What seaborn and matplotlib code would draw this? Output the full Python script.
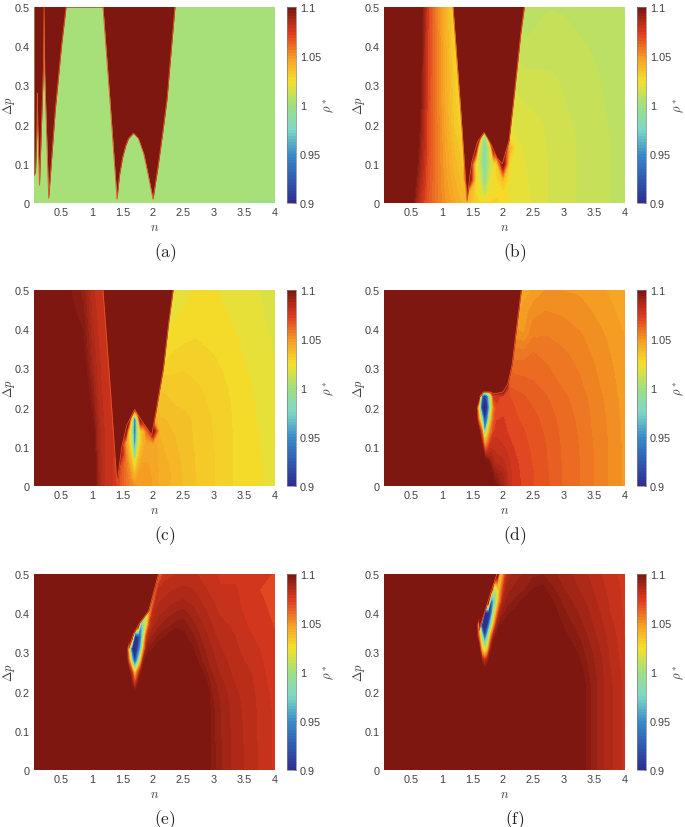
import numpy as np
import matplotlib
matplotlib.use("Agg")
import matplotlib.pyplot as plt
from matplotlib.colors import ListedColormap, Normalize
import seaborn as sns

# field values are (rho* - 1) * 1000
rho_ticks = [0.9, 0.95, 1, 1.05, 1.1]
n_ticks = [0.5, 1, 1.5, 2, 2.5, 3, 3.5, 4]
dp_ticks = [0, 0.1, 0.2, 0.3, 0.4, 0.5]
captions = ['(a)', '(b)', '(c)', '(d)', '(e)', '(f)']
cbar_colors = ['#2e2f92', '#2f5fb4', '#3a8fca', '#7fd8c5', '#a0e080',
               '#f4e02a', '#f59a23', '#de3b1f', '#7d1710']

x_a = [0.05, 2.3, 2.6, 3.0, 3.4, 3.6, 4.0]
y_a = [0, 0.004, 0.02, 0.5]
rho_a = [
    [1.5, -1, -1, -1, 1.5, -1, -1],
    [1.5, 1.5, 1.5, 1.5, 1.5, -1, -1],
    [1.5, 1.5, 1.5, 1.5, 1.5, 1.5, 1.5],
    [1.5, 1.5, 1.5, 1.5, 1.5, 1.5, 1.5],
]
front_n_a = [0.05, 0.075, 0.10, 0.105, 0.11, 0.14, 0.205, 0.215, 0.225, 0.29, 0.4, 0.5, 0.575,
             1.18, 1.3, 1.41, 1.45, 1.5, 1.55, 1.6, 1.68, 1.76, 1.85, 1.93, 2.0, 2.08, 2.16, 2.23, 2.36]
front_dp_a = [0.07, 0.08, 0.2, 0.28, 0.2, 0.045, 0.35, 0.5, 0.33, 0.012, 0.24, 0.4, 0.5,
              0.5, 0.25, 0.01, 0.07, 0.115, 0.145, 0.165, 0.178, 0.165, 0.125, 0.065, 0.01, 0.09, 0.18, 0.265, 0.5]

x_b = [0.05, 0.5, 0.6, 0.75, 0.9, 1.05, 1.2, 1.35, 1.45, 1.55, 1.6, 1.65, 1.7, 1.75, 1.8, 1.85, 1.9, 2.0, 2.1, 2.2, 2.4, 2.6, 2.8, 3.0, 3.25, 3.5, 3.75, 4.0]
y_b = [0, 0.03, 0.06, 0.1, 0.14, 0.17, 0.2, 0.3, 0.4, 0.5]
rho_b = [
    [110, 102, 83, 68, 58, 50, 44, 38, 36, 28, 27, 27, 27, 27, 27, 27, 27, 25, 23, 22, 20.5, 18, 16, 15, 13, 11.5, 10, 8],
    [110, 105, 86, 69, 58, 49, 42, 36, 40, 26, 24, 18, 3, 18, 24, 26, 26, 25, 23, 22, 20.3, 18, 16, 15, 13, 11.5, 10, 8],
    [110, 108, 90, 70, 58, 48, 40, 34, 100, 25, 20, 8, -18, 8, 20, 24, 26, 35, 23, 21.5, 20, 18, 16, 14.8, 13, 11.5, 10, 8],
    [110, 112, 94, 71, 58, 47, 38, 32, 100, 22, 15, 0, -28, 0, 15, 20, 26, 100, 24, 21, 19.7, 17.8, 16, 14.7, 13, 11.5, 10, 8],
    [110, 114, 97, 72, 58, 46, 36, 30, 100, 100, 18, 2, -28, 2, 20, 100, 100, 100, 40, 21, 19.3, 17.5, 16, 14.5, 13, 11.5, 10, 8],
    [110, 116, 99, 72, 58, 45, 34, 28, 100, 100, 100, 20, -15, 20, 100, 100, 100, 100, 24, 20, 19, 17.3, 15.8, 14.4, 12.9, 11.4, 10, 8],
    [110, 118, 102, 73, 58, 44, 32, 26, 100, 100, 100, 100, 100, 100, 100, 100, 100, 100, 24, 19, 18, 17, 15.5, 14, 12.7, 11.2, 9.7, 7.8],
    [110, 122, 107, 74, 57, 42, 30, 24, 100, 100, 100, 100, 100, 100, 100, 100, 100, 100, 18, 16, 15, 14.5, 14, 13, 12, 10.8, 9, 7.5],
    [110, 126, 111, 75, 57, 41, 28, 22, 100, 100, 100, 100, 100, 100, 100, 100, 100, 100, 15, 12, 10.5, 11.5, 12, 11.5, 10.5, 9.5, 8.5, 7],
    [110, 130, 115, 76, 56, 40, 26, 20, 100, 100, 100, 100, 100, 100, 100, 100, 100, 100, 10, 8, 8, 9, 9.8, 9.5, 8.5, 8, 7.5, 6.5],
]
front_n_b = [1.18, 1.3, 1.41, 1.45, 1.49, 1.58, 1.69, 1.82, 1.9, 1.99, 2.1, 2.18, 2.29, 2.35]
front_dp_b = [0.5, 0.25, 0.005, 0.06, 0.105, 0.155, 0.18, 0.145, 0.115, 0.1, 0.16, 0.27, 0.43, 0.5]

x_c = [0.05, 0.85, 1.0, 1.1, 1.2, 1.35, 1.45, 1.55, 1.6, 1.65, 1.7, 1.75, 1.8, 1.85, 1.9, 2.0, 2.1, 2.2, 2.35, 2.5, 2.7, 3.0, 3.3, 3.6, 4.0]
y_c = [0, 0.02, 0.05, 0.08, 0.11, 0.14, 0.17, 0.2, 0.25, 0.3, 0.37, 0.43, 0.5]
rho_c = [
    [110, 110, 110, 88, 80, 76, 70, 60, 57, 54, 51, 50, 49, 50, 48, 46, 43, 41.5, 39, 36, 33.3, 30, 26.7, 24.5, 22],
    [110, 110, 110, 88, 80, 76, 70, 60, 55, 48, 40, 47, 49, 49, 48, 46, 43, 41.5, 39, 36, 33.3, 30, 26.7, 24.5, 22],
    [110, 110, 108, 87, 80, 76, 72, 58, 50, 38, 22, 38, 46, 48, 47, 46, 42.5, 41, 38.5, 35.7, 33, 30, 26.7, 24.5, 22],
    [110, 110, 106, 86, 80, 76, 100, 55, 42, 25, -30, 25, 38, 44, 46, 46, 42, 40, 38, 35.3, 33, 30, 26.7, 24.4, 21.8],
    [110, 110, 104, 85, 80, 76, 100, 48, 33, 8, -70, 8, 30, 40, 45, 46, 41, 39, 37, 35, 32.8, 29.8, 26.6, 24.3, 21.6],
    [110, 110, 102, 85, 80, 76, 100, 100, 30, 5, -90, 5, 28, 38, 60, 100, 39, 38, 36.3, 34.8, 32.6, 29.7, 26.6, 24.2, 21.4],
    [110, 108, 98, 84, 79, 76, 100, 100, 100, 15, -90, 15, 100, 100, 100, 45, 37, 36.5, 35.5, 34.5, 32.5, 29.5, 26.5, 24, 21],
    [110, 106, 95, 83, 79, 76, 100, 100, 100, 100, 100, 100, 100, 100, 100, 45, 35, 34, 33.5, 33, 31.8, 29.2, 26.4, 23.8, 20.8],
    [110, 103, 92, 82, 78, 76, 100, 100, 100, 100, 100, 100, 100, 100, 100, 40, 33, 33, 32, 31.5, 30.5, 28.5, 26, 23.5, 20.5],
    [110, 101, 88, 81, 78, 76, 100, 100, 100, 100, 100, 100, 100, 100, 100, 35, 30, 28, 29, 29.7, 29, 27.5, 25.2, 22.7, 20],
    [110, 98, 85, 80, 78, 76, 100, 100, 100, 100, 100, 100, 100, 100, 100, 30, 25, 22, 25, 26.2, 26.8, 25.7, 24, 22, 19.5],
    [110, 95, 83, 79, 78, 76, 100, 100, 100, 100, 100, 100, 100, 100, 100, 25, 22, 20, 23, 24, 25, 24.5, 23, 21, 19],
    [110, 92, 81, 78, 78, 76, 100, 100, 100, 100, 100, 100, 100, 100, 100, 22, 20, 20, 20, 22, 23.5, 23.5, 22.5, 21, 18],
]
front_n_c = [1.18, 1.3, 1.41, 1.49, 1.57, 1.7, 1.82, 1.98, 2.06, 2.17, 2.26, 2.33]
front_dp_c = [0.5, 0.25, 0.005, 0.1, 0.155, 0.195, 0.165, 0.13, 0.2, 0.3, 0.42, 0.5]

x_d = [0.05, 1.5, 1.55, 1.6, 1.65, 1.7, 1.75, 1.8, 1.85, 1.9, 2.0, 2.1, 2.2, 2.35, 2.5, 2.7, 2.95, 3.25, 3.45, 3.7, 3.95, 4.0]
y_d = [0, 0.03, 0.06, 0.09, 0.11, 0.14, 0.17, 0.2, 0.23, 0.25, 0.3, 0.34, 0.385, 0.445, 0.5]
rho_d = [
    [110, 110, 110, 110, 110, 110, 110, 110, 100, 96, 88, 78, 75, 72, 70, 67.5, 63.5, 60, 57, 53.5, 49.8, 49],
    [110, 110, 110, 110, 110, 110, 110, 102, 92, 90, 86, 78, 74.5, 72, 70, 67.3, 63.4, 60, 57, 53.5, 49.8, 49],
    [110, 110, 110, 110, 110, 110, 100, 90, 84, 82, 81, 77, 74, 71.5, 69.5, 67, 63.3, 60, 57, 53.5, 49.8, 49],
    [110, 110, 110, 110, 110, 70, 75, 82, 80, 79, 78, 75, 73, 71, 69.2, 66.7, 63.2, 59.8, 57, 53.5, 49.8, 49],
    [110, 110, 110, 110, 90, 40, 55, 75, 79, 78, 76, 74, 72, 70.5, 69, 66.5, 63, 59.7, 56.8, 53.4, 49.7, 49],
    [110, 110, 110, 100, 60, -60, 25, 55, 72, 75, 74.5, 72.5, 71, 70, 68.5, 66, 62.7, 59.5, 56.6, 53.3, 49.6, 49],
    [110, 110, 108, 50, -10, -100, -50, 30, 65, 73, 73.5, 72, 70.5, 69, 67.5, 65.5, 62.2, 59.2, 56.3, 53, 49.4, 49],
    [110, 110, 100, 15, -95, -105, -95, 0, 55, 72, 72.5, 71, 69.8, 68, 66.5, 64.5, 61.5, 58.8, 56, 52.8, 49.2, 48.7],
    [110, 110, 110, 110, -60, -100, -60, 10, 75, 75, 72, 70, 68, 66.7, 65, 63.5, 60.8, 58.2, 55.5, 52.4, 49, 48.5],
    [110, 110, 110, 110, 110, 110, 110, 110, 110, 110, 110, 67, 66, 65, 64, 62.5, 60, 57.5, 55, 52, 48.8, 48.3],
    [110, 110, 110, 110, 110, 110, 110, 110, 110, 110, 110, 63, 62, 62, 62, 60.5, 58.5, 56.3, 54, 51.2, 48.3, 47.8],
    [110, 110, 110, 110, 110, 110, 110, 110, 110, 110, 110, 58, 58, 58, 60, 59, 57.3, 55.3, 53, 50.5, 47.8, 47.3],
    [110, 110, 110, 110, 110, 110, 110, 110, 110, 110, 110, 110, 52, 50, 56, 56.5, 55.3, 53.7, 52, 49.6, 47, 46.5],
    [110, 110, 110, 110, 110, 110, 110, 110, 110, 110, 110, 110, 46, 48, 52, 53.3, 52.8, 51.5, 50, 48, 45.5, 45],
    [110, 110, 110, 110, 110, 110, 110, 110, 110, 110, 110, 110, 42, 45, 47, 50, 50, 49.3, 48, 46.5, 44, 43.5],
]
front_n_d = [1.62, 1.68, 1.78, 1.86, 2.0, 2.08, 2.15, 2.22, 2.3]
front_dp_d = [0.228, 0.24, 0.24, 0.235, 0.24, 0.26, 0.31, 0.4, 0.5]

x_e = [0.05, 1.5, 1.55, 1.6, 1.65, 1.7, 1.75, 1.8, 1.85, 1.9, 1.95, 2.0, 2.05, 2.1, 2.2, 2.3, 2.4, 2.5, 2.65, 2.8, 2.95, 3.1, 3.35, 3.6, 3.8, 4.0]
y_e = [0, 0.15, 0.19, 0.22, 0.25, 0.28, 0.31, 0.34, 0.37, 0.4, 0.43, 0.46, 0.5]
rho_e = [
    [110, 110, 110, 110, 110, 110, 110, 110, 110, 110, 110, 110, 110, 110, 110, 110, 110, 110, 110, 110, 96, 90.5, 85, 82, 78.5, 76],
    [110, 110, 110, 110, 110, 110, 110, 110, 110, 110, 110, 110, 110, 110, 110, 110, 110, 110, 110, 110, 95, 90, 84.5, 81.5, 78, 76],
    [110, 110, 110, 110, 110, 105, 110, 110, 110, 110, 110, 110, 110, 110, 110, 110, 110, 110, 110, 108, 94, 89, 84, 81, 78, 75.5],
    [110, 110, 110, 110, 95, 70, 90, 110, 110, 110, 110, 110, 110, 110, 110, 110, 110, 110, 110, 103, 92, 88, 83, 80.5, 77.5, 75],
    [110, 110, 110, 100, 75, 15, 60, 90, 105, 110, 110, 110, 110, 110, 110, 110, 110, 110, 108, 97, 90, 86, 82, 80, 77, 74.5],
    [110, 110, 110, 60, -20, -100, -40, 30, 90, 100, 105, 110, 110, 110, 110, 110, 110, 110, 100, 93, 88, 85, 81, 79, 76.5, 74],
    [110, 110, 110, 25, -95, -110, -90, -40, 45, 90, 94, 96, 98, 100, 103, 105, 105, 102, 97, 91, 87, 83.5, 80.5, 78, 76, 74],
    [110, 110, 110, 110, 110, -110, -105, -70, 10, 75, 86, 90, 92, 94, 96, 99, 101, 98, 94, 89, 85, 82, 80, 77, 75, 73.5],
    [110, 110, 110, 110, 110, 110, 110, -50, -20, 25, 75, 85, 87, 89, 91, 93, 95, 95, 91, 87, 83.5, 81, 79, 76, 74.5, 73],
    [110, 110, 110, 110, 110, 110, 110, 110, 20, 10, 50, 80, 84, 85, 87, 89, 90.5, 91, 88, 85, 82, 79.5, 78, 75, 74, 72.5],
    [110, 110, 110, 110, 110, 110, 110, 110, 110, 110, 40, 60, 80, 83, 84, 85.5, 86.5, 87, 85.5, 83, 80.5, 78, 77.5, 74.5, 73.5, 72],
    [110, 110, 110, 110, 110, 110, 110, 110, 110, 110, 110, 40, 65, 81, 82, 83, 83.5, 84, 83.5, 81, 79, 77, 77, 74, 73, 72],
    [110, 110, 110, 110, 110, 110, 110, 110, 110, 110, 110, 110, 40, 60, 78, 79, 80, 80.5, 80.5, 79, 77.5, 76, 76, 75, 74, 73],
]
front_n_e = [1.6, 1.68, 1.79, 1.93, 2.01, 2.09]
front_dp_e = [0.31, 0.347, 0.377, 0.406, 0.453, 0.5]

x_f = [0.05, 1.5, 1.55, 1.6, 1.65, 1.7, 1.75, 1.8, 1.85, 1.9, 1.95, 2.0, 2.05, 2.1, 2.2, 2.35, 2.5, 2.65, 2.8, 3.0, 3.25, 3.4, 3.6, 3.75, 3.9, 4.0]
y_f = [0, 0.22, 0.25, 0.28, 0.31, 0.34, 0.37, 0.4, 0.43, 0.46, 0.5]
rho_f = [
    [110, 110, 110, 110, 110, 110, 110, 110, 110, 110, 110, 110, 110, 110, 110, 110, 110, 110, 110, 110, 102, 94, 88, 84, 81, 78],
    [110, 110, 110, 110, 110, 110, 110, 110, 110, 110, 110, 110, 110, 110, 110, 110, 110, 110, 110, 110, 101, 94, 88, 84, 81, 78],
    [110, 110, 110, 110, 110, 103, 108, 110, 110, 110, 110, 110, 110, 110, 110, 110, 110, 110, 110, 108, 99, 93, 87.5, 83.5, 80.5, 77.5],
    [110, 110, 110, 110, 90, 75, 88, 105, 110, 110, 110, 110, 110, 110, 110, 110, 110, 110, 110, 104, 97, 92, 87, 83, 80, 77],
    [110, 110, 110, 105, 30, 0, 30, 85, 105, 110, 110, 110, 110, 110, 110, 110, 110, 110, 108, 101, 95, 91, 86, 82.5, 79.5, 76.5],
    [110, 110, 110, 60, -5, -90, -20, 45, 90, 98, 105, 108, 110, 110, 110, 110, 110, 110, 104, 98, 93, 89.5, 85, 82, 79, 76],
    [110, 110, 110, 25, -100, -110, -100, -20, 40, 85, 96, 98, 100, 103, 106, 110, 110, 108, 101, 96, 91, 88, 84, 81, 78.5, 76],
    [110, 110, 110, 110, 110, -110, -110, -90, 0, 50, 85, 92, 94, 96, 98, 105, 108, 104, 99, 94, 89.5, 87, 83, 80, 78, 75.5],
    [110, 110, 110, 110, 110, 110, 110, -100, -40, 10, 55, 85, 90, 92, 94, 98, 102, 101, 97, 92, 88, 85.5, 82, 79.5, 77.5, 75],
    [110, 110, 110, 110, 110, 110, 110, 110, -5, 10, 40, 70, 87, 89, 91, 93, 97, 98, 94, 90, 86.5, 84.5, 81, 79, 77, 74.5],
    [110, 110, 110, 110, 110, 110, 110, 110, 110, 110, 25, 45, 75, 85, 88, 90, 92, 93, 91, 88, 85, 83, 80, 78, 76, 74],
]
front_n_f = [1.6, 1.69, 1.8, 1.9]
front_dp_f = [0.355, 0.398, 0.453, 0.5]

fields = [(x_a, y_a, rho_a), (x_b, y_b, rho_b), (x_c, y_c, rho_c),
          (x_d, y_d, rho_d), (x_e, y_e, rho_e), (x_f, y_f, rho_f)]
fronts = [(front_n_a, front_dp_a), (front_n_b, front_dp_b), (front_n_c, front_dp_c),
          (front_n_d, front_dp_d), (front_n_e, front_dp_e), (front_n_f, front_dp_f)]

sns.set_theme(style="white")
plt.rcParams['font.family'] = ['Liberation Sans', 'DejaVu Sans']
plt.rcParams['mathtext.fontset'] = 'cm'

cmap = ListedColormap(sns.blend_palette(cbar_colors, n_colors=64))
cmap.set_over(cbar_colors[-1])
cmap.set_under(cbar_colors[0])
levels = np.linspace(0.9, 1.1, 61)

W, H = 685, 828
fig = plt.figure(figsize=(W / 100, H / 100), dpi=100)
lefts = [34, 384]
tops = [8, 291, 575]
ax_w, ax_h = 241, 196
tick_color = '#404040'

for i, (field, front) in enumerate(zip(fields, fronts)):
    left = lefts[i % 2]
    top = tops[i // 2]
    norm = Normalize(0.9, 1.1)
    ax = fig.add_axes([left / W, 1 - (top + ax_h) / H, ax_w / W, ax_h / H])
    x, y, z = field
    rho = 1 + np.array(z, dtype=float) / 1000
    cs = ax.contourf(x, y, rho, levels=levels, cmap=cmap, norm=norm, extend='both')
    cs.set_edgecolor('face')
    cs.set_linewidth(0.4)
    # saturated region above the front, runs past the top so no seam shows
    ax.fill_between(front[0], front[1], 0.52, facecolor=cbar_colors[-1], linewidth=0)
    ax.plot(front[0], front[1], color='#e9531f', linewidth=0.6)
    ax.set_xlim(0.05, 4)
    ax.set_ylim(0, 0.5)
    ax.set_xticks(n_ticks)
    ax.set_xticklabels([f'{v:g}' for v in n_ticks])
    ax.set_yticks(dp_ticks)
    ax.set_yticklabels([f'{v:g}' for v in dp_ticks])
    ax.tick_params(length=0, labelsize=7.8, labelcolor=tick_color, pad=3)
    ax.set_xlabel('$n$', fontsize=9, color=tick_color, labelpad=3)
    ax.set_ylabel(r'$\Delta p$', fontsize=9, color=tick_color)
    ax.yaxis.set_label_coords(-0.07, 0.5)
    for s in ax.spines.values():
        s.set_visible(False)

    cax = fig.add_axes([(left + 252.5) / W, 1 - (top + ax_h) / H, 9 / W, ax_h / H])
    cb = fig.colorbar(plt.cm.ScalarMappable(norm=norm, cmap=cmap), cax=cax, ticks=rho_ticks, format='%g')
    cb.ax.tick_params(length=1.5, width=0.5, direction='in', labelsize=7.8, labelcolor=tick_color, pad=3, color='#606060')
    cb.outline.set_linewidth(0.5)
    cb.outline.set_edgecolor('#808080')
    cb.set_label(r'$\rho^*$', fontsize=9, color=tick_color)
    cb.ax.yaxis.set_label_coords(3.95, 0.5)

    fig.text((left + 131) / W, 1 - (top + 245) / H, f'$\\mathrm{{{captions[i]}}}$', fontsize=12.5,
             ha='center', va='center', color='#222222')

fig.savefig('out.png', dpi=100)
